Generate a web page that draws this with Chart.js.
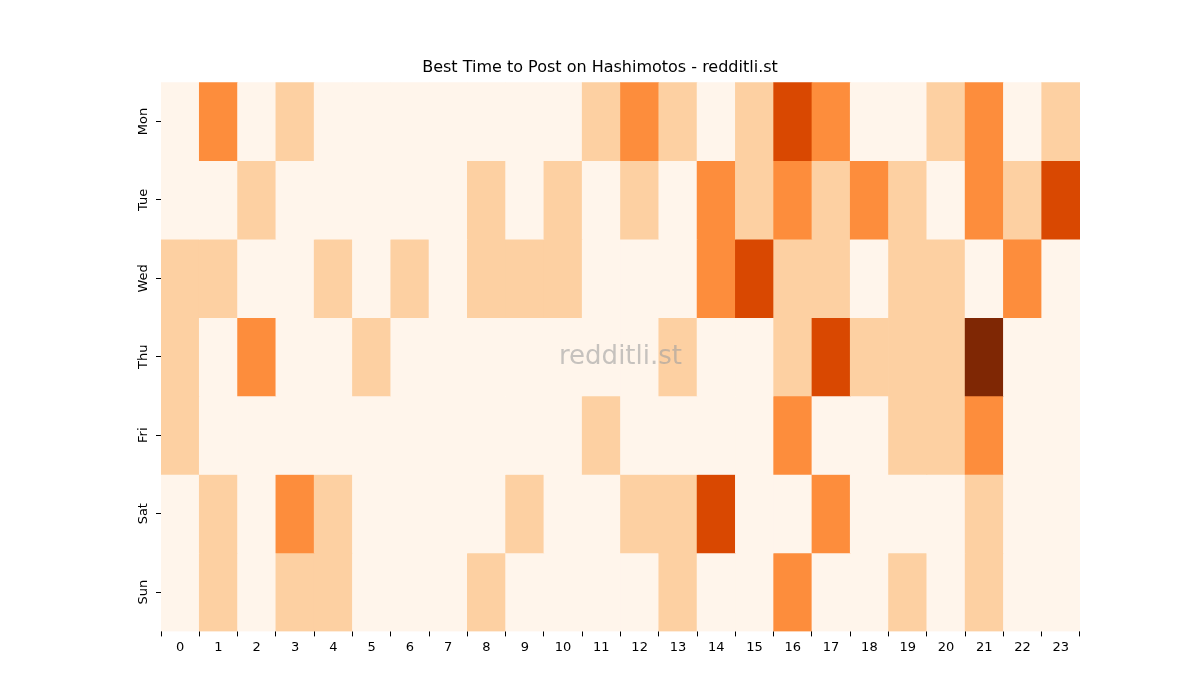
<!DOCTYPE html><html><head><meta charset="utf-8">
<script src="https://cdn.jsdelivr.net/npm/chart.js@4"></script>
<style>body{margin:0;background:#fff}#w{width:1200px;height:700px}</style></head><body>
<div id="w"><canvas id="c" width="1200" height="700"></canvas></div>
<script>
const hours=['0','1','2','3','4','5','6','7','8','9','10','11','12','13','14','15','16','17','18','19','20','21','22','23'];
const days=['Mon','Tue','Wed','Thu','Fri','Sat','Sun'];
const mon=[0,2,0,1,0,0,0,0,0,0,0,1,2,1,0,1,3,2,0,0,1,2,0,1];
const tue=[0,0,1,0,0,0,0,0,1,0,1,0,1,0,2,1,2,1,2,1,0,2,1,3];
const wed=[1,1,0,0,1,0,1,0,1,1,1,0,0,0,2,3,1,1,0,1,1,0,2,0];
const thu=[1,0,2,0,0,1,0,0,0,0,0,0,0,1,0,0,1,3,1,1,1,4,0,0];
const fri=[1,0,0,0,0,0,0,0,0,0,0,1,0,0,0,0,2,0,0,1,1,2,0,0];
const sat=[0,1,0,2,1,0,0,0,0,1,0,0,1,1,3,0,0,2,0,0,0,1,0,0];
const sun=[0,1,0,1,1,0,0,0,1,0,0,0,0,1,0,0,2,0,0,1,0,1,0,0];
const rows=[mon,tue,wed,thu,fri,sat,sun];
const palette=['#fff5eb','#fdd0a2','#fd8d3c','#d94801','#7f2704'];
const F='"DejaVu Sans"';
const datasets=rows.map((r,i)=>({label:days[i],data:r.map(()=>[i,i+1]),backgroundColor:r.map(v=>palette[v]),borderWidth:0,grouped:false,barPercentage:1,categoryPercentage:1}));
const deco={id:'deco',afterDraw(ch){const c=ch.ctx,a=ch.chartArea,y=ch.scales.y;c.save();
c.fillStyle='#000';c.font='13px '+F;c.textAlign='center';c.textBaseline='middle';
days.forEach((d,i)=>{c.save();c.translate(a.left-17,y.getPixelForValue(i+0.5));c.rotate(-Math.PI/2);c.fillText(d,0,0);c.restore();});
c.fillStyle='rgba(160,160,160,0.6)';c.font='26px '+F;c.fillText('redditli.st',(a.left+a.right)/2,(a.top+a.bottom)/2);c.restore();}};
new Chart(document.getElementById('c'),{type:'bar',data:{labels:hours,datasets},
options:{responsive:false,animation:false,layout:{padding:{left:120,right:120,top:10,bottom:42}},
plugins:{legend:{display:false},tooltip:{enabled:false},title:{display:true,text:'Best Time to Post on Hashimotos - redditli.st',color:'#000',font:{family:F,size:16,weight:'normal'},padding:{top:48,bottom:5}}},
scales:{x:{grid:{display:true,drawOnChartArea:false,tickLength:5,color:'#000'},border:{display:false},ticks:{color:'#000',font:{family:F,size:13},maxRotation:0,padding:3}},
y:{type:'linear',min:0,max:7,reverse:true,afterBuildTicks:s=>{s.ticks=days.map((d,i)=>({value:i+0.5}));},grid:{display:true,drawOnChartArea:false,tickLength:5,color:'#000'},border:{display:false},ticks:{callback:()=>'',padding:18}}}},
plugins:[deco]});
</script></body></html>
